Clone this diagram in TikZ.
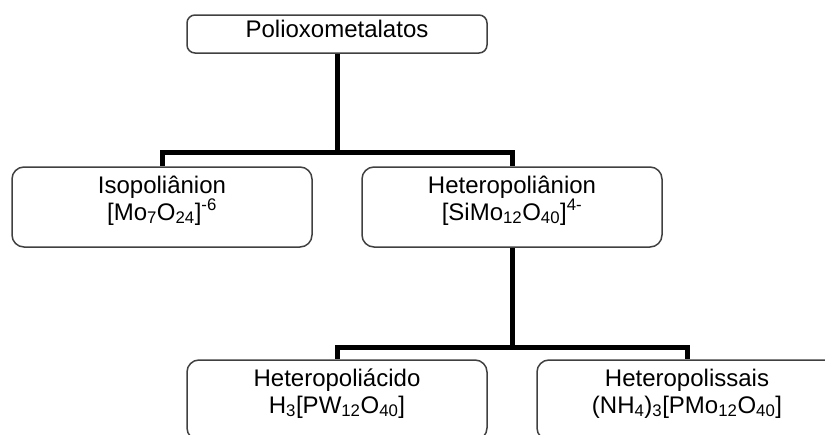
\documentclass[tikz,border=0pt]{standalone}
\usepackage{fontspec}
\setmainfont{Liberation Sans}
\usetikzlibrary{positioning}
\tikzset{
  classbox/.style={draw=black!75, line width=1.5pt, rounded corners=12pt,
    minimum width=300pt, minimum height=80pt, inner sep=0pt,
    text height=45pt, text depth=19pt,
    align=center, font=\fontsize{24}{27}\selectfont},
  rootbox/.style={classbox, minimum height=38pt, rounded corners=8pt,
    text height=18pt, text depth=12pt},
  branch/.style={line width=5pt},
}
\begin{document}
\begin{tikzpicture}[x=1pt, y=-1pt]
    \clip (0,0) rectangle (825,434);

    \node [rootbox] (pom) at (337,34) {Polioxometalatos};
    \node [classbox] (iso) at (162,207) {Isopoliânion\\{}[Mo\textsubscript{7}O\textsubscript{24}]\textsuperscript{-6}};
    \node [classbox] (het) at (512,207) {Heteropoliânion\\{}[SiMo\textsubscript{12}O\textsubscript{40}]\textsuperscript{4-}};
    \node [classbox] (acid) at (337,400) {Heteropoliácido\\H\textsubscript{3}[PW\textsubscript{12}O\textsubscript{40}]};
    \node [classbox] (salt) at (687,400) {Heteropolissais\\(NH\textsubscript{4})\textsubscript{3}[PMo\textsubscript{12}O\textsubscript{40}]};

    % ramificacoes
    \coordinate (split1) at (337,152);
    \coordinate (split2) at (512,347);
    \draw [branch] (pom.south) -- (split1) -| (iso.north);
    \draw [branch] (split1) -| (het.north);
    \draw [branch] (het.south) -- (split2) -| (acid.north);
    \draw [branch] (split2) -| (salt.north);
\end{tikzpicture}
\end{document}
